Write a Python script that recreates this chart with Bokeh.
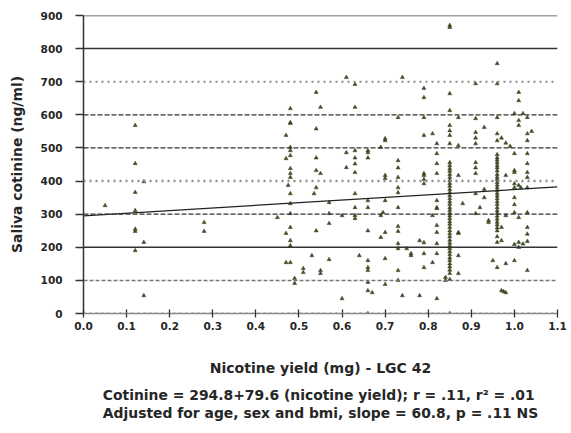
from bokeh.plotting import figure
from bokeh.models import Range1d, Span, FixedTicker, Title
from bokeh.embed import file_html
from bokeh.resources import INLINE

# ---- data ----
x_ticks = [0.0, 0.1, 0.2, 0.3, 0.4, 0.5, 0.6, 0.7, 0.8, 0.9, 1.0, 1.1]
x_tick_labels = ["0.0", "0.1", "0.2", "0.3", "0.4", "0.5", "0.6", "0.7", "0.8", "0.9", "1.0", "1.1"]
y_ticks = [0, 100, 200, 300, 400, 500, 600, 700, 800, 900]

intercept = 294.8
slope = 79.6

# nicotine yield (mg)
nicotine = [
    0.05, 0.12, 0.12, 0.12, 0.12, 0.12, 0.12, 0.12, 0.14, 0.14, 0.14,
    0.28, 0.28, 0.45,
    0.48, 0.48, 0.47, 0.48, 0.48, 0.47, 0.48, 0.48, 0.48, 0.475, 0.48, 0.48, 0.48, 0.48,
    0.47, 0.48, 0.48, 0.47, 0.48, 0.49, 0.49, 0.51, 0.51, 0.48, 0.48,
    0.54, 0.55, 0.54, 0.54, 0.55, 0.54, 0.535, 0.54, 0.53, 0.55, 0.55, 0.54,
    0.57, 0.57, 0.57, 0.57, 0.60, 0.60, 0.61, 0.61, 0.61,
    0.63, 0.63, 0.63, 0.63, 0.63, 0.63, 0.63, 0.63, 0.64, 0.63, 0.63,
    0.66, 0.66, 0.66, 0.66, 0.66, 0.66, 0.66, 0.66, 0.66, 0.67, 0.66, 0.66, 0.66,
    0.69, 0.69, 0.70, 0.70, 0.70, 0.70, 0.70, 0.70, 0.695, 0.69, 0.70, 0.70,
    0.73, 0.73, 0.73, 0.73, 0.73, 0.73, 0.73, 0.73, 0.73, 0.73, 0.73, 0.73, 0.73, 0.74, 0.74,
    0.75, 0.76, 0.76, 0.78, 0.78, 0.79, 0.79, 0.79, 0.79, 0.79, 0.79, 0.79, 0.79, 0.79, 0.79, 0.79,
    0.81, 0.81, 0.81, 0.82, 0.82, 0.82, 0.82, 0.82, 0.82, 0.82, 0.82, 0.82, 0.82, 0.82, 0.82,
    0.84, 0.84,
    0.85, 0.85, 0.85, 0.85, 0.85, 0.85, 0.85, 0.85, 0.85, 0.85, 0.85, 0.85, 0.85, 0.85, 0.85,
    0.85, 0.85, 0.85, 0.85, 0.85, 0.85, 0.85, 0.85, 0.85, 0.85, 0.85, 0.85, 0.85, 0.85, 0.85,
    0.85, 0.85, 0.85, 0.85, 0.85, 0.85, 0.85, 0.85, 0.85, 0.85, 0.85, 0.85, 0.85, 0.85, 0.85,
    0.85, 0.85, 0.85,
    0.87, 0.87, 0.87, 0.87, 0.87, 0.87, 0.87, 0.88,
    0.91, 0.91, 0.91, 0.91, 0.91, 0.91, 0.91, 0.91, 0.91, 0.91, 0.92, 0.93, 0.93, 0.93, 0.94, 0.94,
    0.95, 0.96, 0.96, 0.96, 0.96, 0.96, 0.96, 0.96, 0.96, 0.96, 0.96, 0.96, 0.96, 0.96, 0.96,
    0.96, 0.96, 0.96, 0.96, 0.96, 0.96, 0.96, 0.96, 0.96, 0.96, 0.96, 0.96, 0.96, 0.96, 0.96,
    0.96, 0.96, 0.96, 0.96, 0.96, 0.96, 0.96,
    0.97, 0.97, 0.97, 0.975, 0.97, 0.98, 0.98, 0.98, 0.98, 0.98, 0.99,
    1.0, 1.0, 1.0, 1.0, 1.0, 1.0, 1.0, 1.0, 1.0, 1.0, 1.0,
    1.01, 1.01, 1.01, 1.01, 1.01, 1.01, 1.01, 1.015, 1.01, 1.02, 1.02,
    1.03, 1.03, 1.03, 1.03, 1.03, 1.03, 1.03, 1.03, 1.03, 1.03, 1.03, 1.03, 1.03, 1.04,
]

# saliva cotinine (ng/ml)
cotinine = [
    326, 568, 453, 366, 311, 255, 248, 190, 398, 215, 54,
    275, 248, 290,
    619, 577, 538, 502, 492, 468, 438, 423, 411, 387, 362, 332, 302, 260,
    242, 220, 205, 154, 154, 106, 91, 136, 124, 574, 477,
    668, 623, 558, 432, 423, 380, 362, 250, 175, 121, 130, 470,
    335, 302, 272, 163, 296, 45, 713, 486, 441,
    692, 623, 492, 470, 452, 426, 362, 296, 175, 287, 320,
    492, 486, 341, 320, 250, 160, 139, 130, 94, 63, 69, 0, 470,
    502, 296, 528, 522, 417, 341, 245, 166, 305, 230, 88, 408,
    592, 462, 440, 411, 380, 365, 320, 263, 248, 211, 196, 130, 100, 713, 54,
    196, 181, 175, 220, 54, 680, 652, 592, 538, 423, 405, 392, 214, 181, 139, 417,
    543, 296, 154, 513, 483, 453, 423, 341, 317, 320, 266, 245, 211, 181, 45,
    109, 100,
    870, 864, 664, 613, 568, 552, 538, 513, 456, 447, 438, 430, 420, 411, 402,
    393, 385, 375, 366, 356, 347, 338, 330, 320, 312, 303, 295, 287, 278, 270,
    260, 250, 241, 232, 222, 213, 204, 196, 187, 178, 168, 160, 150, 141, 131,
    121, 103, 0,
    592, 507, 417, 245, 242, 175, 121, 332,
    694, 589, 547, 530, 513, 456, 440, 423, 362, 302, 320, 562, 375, 350, 281, 275,
    160, 755, 694, 592, 543, 522, 480, 470, 463, 455, 447, 440, 431, 420, 412,
    405, 396, 388, 380, 372, 363, 355, 347, 338, 330, 320, 311, 303, 294, 285,
    276, 268, 259, 250, 232, 215, 139,
    530, 260, 220, 66, 69, 515, 417, 296, 151, 63, 505,
    604, 483, 432, 426, 350, 329, 305, 392, 160, 209, 380,
    668, 643, 583, 568, 290, 215, 200, 380, 387, 604, 210,
    592, 543, 522, 483, 453, 426, 411, 380, 305, 260, 240, 218, 130, 550,
]

caption_1 = "Cotinine = 294.8+79.6 (nicotine yield); r = .11, r² = .01"
caption_2 = "Adjusted for age, sex and bmi, slope = 60.8, p = .11 NS"

FONT = "DejaVu Sans"
TXT = "#262626"

p = figure(width=571, height=433, output_backend="svg", toolbar_location=None,
           x_range=Range1d(0, 1.1), y_range=Range1d(0, 900),
           min_border_left=83, min_border_right=14, min_border_top=15, min_border_bottom=120)
p.outline_line_color = None
p.xgrid.grid_line_color = None
p.ygrid.grid_line_color = None

# horizontal reference lines at tick levels
grid_styles = {
    0: ("#8a8a8a", "dotted", 2), 100: ("#777777", "4 2", 1.5), 200: ("#333333", "solid", 1.5),
    300: ("#333333", "5 2", 1.3), 400: ("#8a8a8a", "dotted", 2.5), 500: ("#333333", "5 2", 1.3),
    600: ("#333333", "5 2", 1.3), 700: ("#8a8a8a", "dotted", 2), 800: ("#333333", "solid", 1.5),
    900: ("#444444", "solid", 1.5),
}
for yv in y_ticks:
    c, d, w = grid_styles[yv]
    p.add_layout(Span(location=yv, dimension="width", line_color=c, line_dash=d, line_width=w))

p.scatter(nicotine, cotinine, marker="triangle", size=4, fill_color="#2e3a1a",
          line_color="#3a4a1c", line_width=0.6, alpha=0.9)

p.line([0, 1.1], [intercept, intercept + slope * 1.1], line_color="#222222", line_width=1.3)

# axes
p.yaxis.ticker = FixedTicker(ticks=y_ticks)
p.xaxis.ticker = FixedTicker(ticks=x_ticks)
p.xaxis.major_label_overrides = {t: l for t, l in zip(x_ticks, x_tick_labels)}
for ax in (p.xaxis[0], p.yaxis[0]):
    ax.major_label_text_font = FONT
    ax.major_label_text_font_size = "10.5px"
    ax.major_label_text_font_style = "bold"
    ax.major_label_text_color = TXT
    ax.minor_tick_line_color = None
    ax.major_tick_line_color = "#333333"
    ax.major_tick_line_width = 1.3
    ax.axis_line_color = "#333333"
    ax.axis_line_width = 1.5
    ax.axis_label_text_font = FONT
    ax.axis_label_text_font_style = "bold"
    ax.axis_label_text_color = TXT
p.yaxis.axis_label_text_font_size = "13.9px"
p.xaxis.axis_label_text_font_size = "14px"
p.yaxis.major_tick_in = 0
p.yaxis.major_tick_out = 8
p.yaxis.major_label_standoff = 13
p.yaxis.axis_label = "Saliva cotinine (ng/ml)"
p.yaxis.axis_label_standoff = 13
p.xaxis.major_tick_in = 4
p.xaxis.major_tick_out = 4
p.xaxis.major_label_standoff = 4
p.xaxis.axis_line_color = "#8a8a8a"
p.xaxis.axis_label = "Nicotine yield (mg) - LGC 42"
p.xaxis.axis_label_standoff = 27

t = Title(text=caption_1 + "\n" + caption_2, align="center", text_font=FONT,
          text_font_size="13.9px", text_font_style="bold", text_color=TXT,
          standoff=13, offset=0, text_line_height=1.12)
p.add_layout(t, "below")

open("out.html", "w").write(file_html(p, INLINE))
